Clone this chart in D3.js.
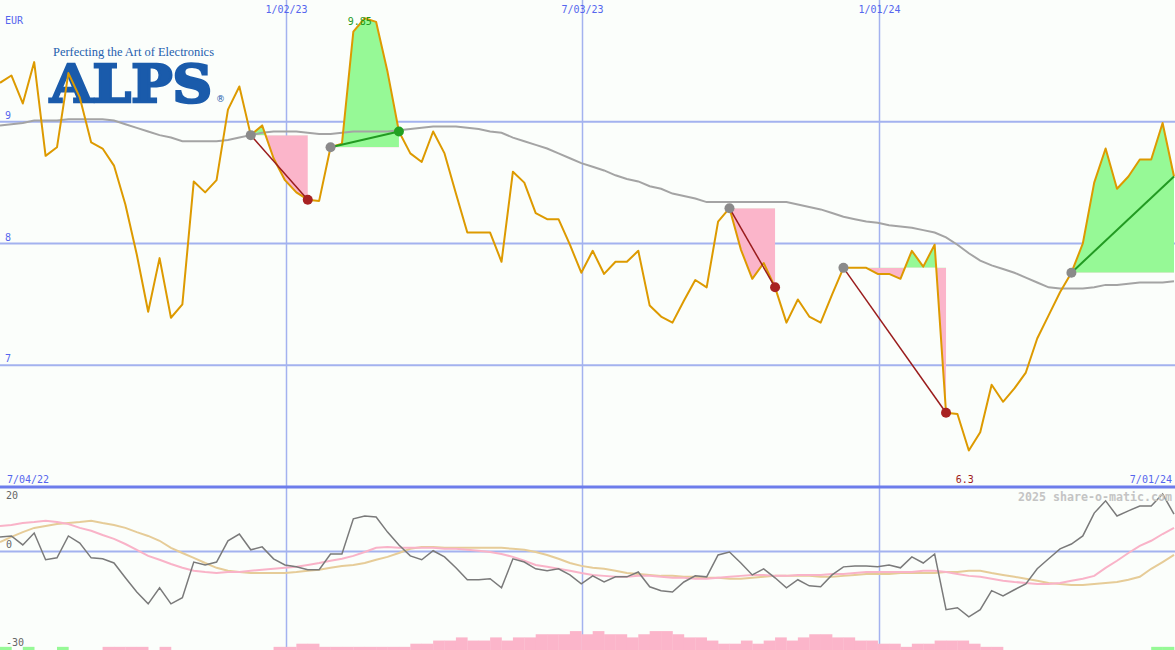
<!DOCTYPE html>
<html><head><meta charset="utf-8">
<script src="https://cdn.jsdelivr.net/npm/d3@7"></script>
<style>html,body{margin:0;padding:0;background:#fbfefb;}svg{display:block;}</style>
</head><body>
<svg id="chart" width="1175" height="650"></svg>
<script>
// ---------- DATA ----------
const startDate = "2022-07-11"; // first weekly close
const price = [9.32,9.38,9.15,9.49,8.72,8.79,9.40,9.20,8.83,8.78,
  8.64,8.32,7.91,7.44,7.88,7.39,7.50,8.51,8.42,8.52,
  9.10,9.29,8.89,8.97,8.70,8.52,8.42,8.36,8.35,8.79,
  8.82,9.74,9.85,9.82,9.41,8.92,8.74,8.67,8.92,8.74,
  8.41,8.09,8.09,8.09,7.85,8.59,8.50,8.25,8.20,8.20,
  7.99,7.76,7.94,7.75,7.85,7.85,7.94,7.49,7.40,7.35,
  7.53,7.70,7.64,8.18,8.29,7.95,7.71,7.84,7.64,7.35,
  7.54,7.40,7.35,7.58,7.80,7.80,7.80,7.75,7.75,7.71,
  7.94,7.81,7.99,6.61,6.60,6.30,6.45,6.84,6.70,6.81,
  6.94,7.22,7.41,7.60,7.76,8.00,8.50,8.78,8.45,8.55,
  8.69,8.69,8.99,8.55];
const movingAvg = [8.97,8.98,8.99,9.01,9.01,9.01,9.02,9.02,9.02,9.02,
  9.01,8.98,8.95,8.92,8.89,8.87,8.84,8.84,8.84,8.84,
  8.85,8.87,8.89,8.91,8.92,8.92,8.92,8.91,8.90,8.90,
  8.91,8.92,8.92,8.92,8.92,8.93,8.94,8.95,8.96,8.96,
  8.96,8.95,8.94,8.92,8.91,8.87,8.84,8.81,8.78,8.74,
  8.70,8.66,8.63,8.60,8.56,8.53,8.51,8.47,8.45,8.41,
  8.39,8.37,8.34,8.34,8.34,8.34,8.34,8.34,8.34,8.34,
  8.32,8.30,8.28,8.25,8.22,8.20,8.18,8.17,8.15,8.14,
  8.13,8.11,8.09,8.05,7.99,7.92,7.86,7.82,7.79,7.76,
  7.72,7.68,7.64,7.63,7.63,7.63,7.64,7.66,7.66,7.67,
  7.68,7.68,7.68,7.69];
// trend signals (week indexes)
const signalStart = [22, 29, 64, 74, 94];
const signalEnd   = [27, 35, 68, 83, 103];
// lower panel
const momentum = [4.5,4.8,2.0,5.7,-2.6,-2.0,4.8,2.6,-2.0,-2.3,
  -3.6,-8.2,-12.6,-16.3,-11.3,-16.3,-14.4,-3.3,-4.2,-3.3,
  3.3,5.4,0.5,1.4,-2.3,-4.2,-4.8,-5.7,-5.7,-0.8,
  -0.8,10.1,11.0,10.7,6.0,2.0,-1.4,-2.6,0.2,-1.7,
  -5.1,-8.8,-8.8,-8.5,-11.3,-2.3,-3.3,-5.4,-6.0,-5.4,
  -7.3,-10.1,-7.6,-9.5,-7.9,-7.9,-6.4,-11.0,-12.2,-12.6,
  -9.5,-7.6,-7.9,-1.1,-0.2,-3.6,-7.3,-5.4,-8.2,-11.3,
  -8.8,-10.7,-11.0,-7.3,-4.8,-4.5,-4.5,-4.8,-4.2,-5.1,
  -1.7,-3.6,-0.8,-18.1,-17.5,-20.3,-18.1,-12.2,-13.8,-11.9,
  -10.1,-5.4,-2.3,0.8,2.3,4.8,11.9,15.7,11.0,12.6,
  14.1,14.1,17.8,11.6];
const signalFast = [7.9,8.2,8.8,9.1,9.5,9.1,8.5,7.3,6.4,5.1,
  3.9,2.3,0.5,-1.4,-2.6,-3.9,-5.1,-6.0,-6.4,-6.7,
  -6.4,-6.4,-6.0,-5.7,-5.4,-5.1,-4.8,-4.2,-3.6,-2.9,
  -2.3,-1.4,-0.2,1.1,1.4,1.1,1.1,1.1,1.1,0.8,
  0.8,0.5,0.2,-0.2,-0.8,-1.7,-2.9,-4.2,-4.8,-5.4,
  -6.0,-6.7,-7.3,-7.6,-7.9,-7.9,-7.6,-7.6,-7.9,-8.2,
  -8.2,-8.5,-8.5,-8.2,-7.9,-7.6,-7.3,-7.3,-7.6,-7.6,
  -7.3,-7.3,-7.3,-7.0,-7.0,-6.7,-6.4,-6.4,-6.4,-6.4,
  -6.4,-6.0,-6.0,-6.4,-7.0,-7.6,-7.9,-8.5,-9.1,-9.5,
  -9.8,-10.1,-10.1,-9.8,-9.1,-8.5,-7.6,-5.1,-2.9,-0.5,
  1.7,3.3,5.4,7.3];
const signalSlow = [2.9,4.5,6.0,7.3,7.9,8.5,8.8,9.1,9.5,8.8,
  8.2,7.3,6.0,4.8,3.3,1.1,-0.5,-2.0,-3.6,-5.1,
  -6.0,-6.4,-6.7,-6.7,-6.7,-6.7,-6.4,-6.0,-5.7,-5.1,
  -4.5,-4.2,-3.6,-2.6,-1.7,-0.5,0.8,1.4,1.4,1.1,
  1.1,1.1,1.1,1.1,1.1,0.8,0.5,-0.2,-1.1,-2.3,
  -3.6,-4.5,-5.1,-5.4,-6.0,-6.7,-7.0,-7.3,-7.6,-7.6,
  -7.9,-7.9,-8.2,-8.2,-8.5,-8.5,-8.2,-7.9,-7.6,-7.6,
  -7.6,-7.6,-7.9,-7.9,-7.6,-7.3,-7.0,-7.0,-7.0,-6.7,
  -6.7,-6.7,-6.7,-6.4,-6.4,-6.0,-6.0,-6.7,-7.3,-7.9,
  -8.5,-9.1,-9.8,-10.1,-10.4,-10.4,-10.1,-9.8,-9.5,-8.8,
  -7.9,-5.4,-3.3,-1.1];
// bottom strength bars: + green, - pink (levels)
const strength = [1,0,1,0,0,1,0,0,0,-1,
  -1,-1,-1,0,-1,0,0,0,0,0,
  0,0,0,0,-1,-1,-2,-2,-1,-1,
  -1,-1,-1,-1,-1,-1,-2,-2,-3,-3,
  -4,-3,-3,-4,-3,-4,-4,-5,-5,-5,
  -6,-5,-6,-5,-5,-4,-5,-6,-6,-5,
  -4,-4,-3,-2,-2,-3,-2,-3,-4,-3,
  -4,-5,-5,-4,-4,-3,-3,-2,-2,-1,
  -2,-2,-3,-3,-3,-2,-1,-1,0,0,
  0,0,0,0,0,0,0,0,0,0,
  0,1,1,0];
const priceTicks = [9, 8, 7];
const dateTicks = ["2023-01-02", "2023-07-03", "2024-01-01"];
const dateTickLabels = ["1/02/23", "7/03/23", "1/01/24"];
const rangeStartLabel = "7/04/22", rangeEndLabel = "7/01/24";
const oscTicks = [20, 0, -30];

// ---------- SCALES ----------
const W = 1175, H = 650, mainBottom = 487;
const parse = d3.timeParse("%Y-%m-%d");
const d0 = parse(startDate);
const dates = price.map((_, i) => d3.timeWeek.offset(d0, i));
const x = d3.scaleTime().domain([dates[0], dates[dates.length - 1]]).range([0, 1174]);
const y = d3.scaleLinear().domain([6, 10]).range([mainBottom, 0]);
const yo = d3.scaleLinear().domain([-30, 20]).range([648, mainBottom]);

const svg = d3.select("#chart");
svg.append("rect").attr("width", W).attr("height", H).attr("fill", "#fbfefb");

const font = "'DejaVu Sans Mono', monospace";
const gridCol = "#a3b2ef";

// ---------- LOGO ----------
const logo = svg.append("g");
logo.append("text").attr("x", 53).attr("y", 56)
  .attr("font-family", "'Liberation Serif', serif").attr("font-size", 13)
  .attr("fill", "#2460ae").attr("textLength", 161).attr("lengthAdjust", "spacingAndGlyphs")
  .text("Perfecting the Art of Electronics");
logo.append("text").attr("x", 50).attr("y", 101.5)
  .attr("font-family", "'DejaVu Serif', serif").attr("font-weight", "bold").attr("font-size", 52)
  .attr("fill", "#1a5bab").attr("stroke", "#1a5bab").attr("stroke-width", 2.6)
  .attr("stroke-linejoin", "miter")
  .attr("textLength", 162).attr("lengthAdjust", "spacingAndGlyphs")
  .text("ALPS");
logo.append("text").attr("x", 216).attr("y", 102)
  .attr("font-family", "'DejaVu Sans', sans-serif").attr("font-size", 9)
  .attr("fill", "#1a5bab").text("®");

// ---------- GRID ----------
priceTicks.forEach(v => {
  svg.append("line").attr("x1", 0).attr("x2", W).attr("y1", y(v)).attr("y2", y(v))
    .attr("stroke", gridCol).attr("stroke-width", 2);
  svg.append("text").attr("x", 5).attr("y", y(v) - 3).attr("font-family", font)
    .attr("font-size", 10).attr("fill", "#5566ee").text(v);
});
svg.append("line").attr("x1", 0).attr("x2", W).attr("y1", yo(0)).attr("y2", yo(0))
  .attr("stroke", gridCol).attr("stroke-width", 2);
dateTicks.forEach((d, k) => {
  const xx = Math.round(x(parse(d))) + 1.5;
  svg.append("line").attr("x1", xx).attr("x2", xx).attr("y1", 0).attr("y2", H)
    .attr("stroke", gridCol).attr("stroke-width", 1.5);
  svg.append("text").attr("x", xx).attr("y", 13).attr("text-anchor", "middle")
    .attr("font-family", font).attr("font-size", 10).attr("fill", "#5566ee").text(dateTickLabels[k]);
});
svg.append("text").attr("x", 5).attr("y", 24).attr("font-family", font)
  .attr("font-size", 10).attr("fill", "#5566ee").text("EUR");

// ---------- SIGNAL FILLS ----------
const defs = svg.append("defs");
signalStart.forEach((s, k) => {
  const e = signalEnd[k];
  const L = price[s];
  const idx = d3.range(s, e + 1);
  const area = d3.area().x(i => x(dates[i])).y0(y(L)).y1(i => y(price[i]));
  defs.append("clipPath").attr("id", "up" + k).append("rect")
    .attr("x", 0).attr("y", 0).attr("width", W).attr("height", y(L));
  defs.append("clipPath").attr("id", "dn" + k).append("rect")
    .attr("x", 0).attr("y", y(L)).attr("width", W).attr("height", mainBottom - y(L));
  svg.append("path").datum(idx).attr("d", area).attr("fill", "#96f996").attr("clip-path", `url(#up${k})`);
  svg.append("path").datum(idx).attr("d", area).attr("fill", "#fbb5ca").attr("clip-path", `url(#dn${k})`);
});

// ---------- LINES ----------
const lineIdx = d3.range(price.length);
svg.append("path").datum(lineIdx)
  .attr("d", d3.line().x(i => x(dates[i])).y(i => y(movingAvg[i])))
  .attr("fill", "none").attr("stroke", "#a4a4a4").attr("stroke-width", 2);
svg.append("path").datum(lineIdx)
  .attr("d", d3.line().x(i => x(dates[i])).y(i => y(price[i])))
  .attr("fill", "none").attr("stroke", "#dd9a00").attr("stroke-width", 2).attr("stroke-linejoin", "round");

signalStart.forEach((s, k) => {
  const e = signalEnd[k];
  const up = price[e] > price[s];
  svg.append("line").attr("x1", x(dates[s])).attr("y1", y(price[s]))
    .attr("x2", x(dates[e])).attr("y2", y(price[e]))
    .attr("stroke", up ? "#229a22" : "#9a1c1c").attr("stroke-width", up ? 2 : 1.5);
  svg.append("circle").attr("cx", x(dates[s])).attr("cy", y(price[s])).attr("r", 5).attr("fill", "#8a8a8a");
  if (e < price.length - 1) {
    svg.append("circle").attr("cx", x(dates[e])).attr("cy", y(price[e])).attr("r", 5)
      .attr("fill", up ? "#22a022" : "#a82222");
  }
});

// max / min labels
const iMax = d3.maxIndex(price), iMin = d3.minIndex(price);
svg.append("text").attr("x", x(dates[iMax]) - 5).attr("y", y(price[iMax]) + 7)
  .attr("text-anchor", "middle").attr("font-family", font).attr("font-size", 10)
  .attr("fill", "#229a22").text(price[iMax].toFixed(2));
svg.append("text").attr("x", x(dates[iMin]) - 4).attr("y", 483)
  .attr("text-anchor", "middle").attr("font-family", font).attr("font-size", 10)
  .attr("fill", "#a01c1c").text(d3.format("")(price[iMin]));

// ---------- SEPARATOR + RANGE LABELS ----------
svg.append("line").attr("x1", 0).attr("x2", W).attr("y1", mainBottom).attr("y2", mainBottom)
  .attr("stroke", "#6d7deb").attr("stroke-width", 3);
svg.append("text").attr("x", 7).attr("y", 483).attr("font-family", font).attr("font-size", 10)
  .attr("fill", "#5566ee").text(rangeStartLabel);
svg.append("text").attr("x", 1172).attr("y", 483).attr("text-anchor", "end").attr("font-family", font)
  .attr("font-size", 10).attr("fill", "#5566ee").text(rangeEndLabel);

// ---------- OSCILLATOR PANEL ----------
const barW = x(dates[1]) - x(dates[0]);
svg.append("g").selectAll("rect").data(lineIdx.filter(i => strength[i] !== 0)).join("rect")
  .attr("x", i => x(dates[i])).attr("width", barW + 0.3)
  .attr("y", i => H - Math.abs(strength[i]) * 3.15).attr("height", i => Math.abs(strength[i]) * 3.15)
  .attr("fill", i => strength[i] > 0 ? "#96f996" : "#fbb5ca");

const oscLine = arr => d3.line().x(i => x(dates[i])).y(i => yo(arr[i]));
svg.append("path").datum(lineIdx).attr("d", oscLine(signalSlow))
  .attr("fill", "none").attr("stroke", "#e6cc98").attr("stroke-width", 2);
svg.append("path").datum(lineIdx).attr("d", oscLine(signalFast))
  .attr("fill", "none").attr("stroke", "#f9b3c8").attr("stroke-width", 2);
svg.append("path").datum(lineIdx).attr("d", oscLine(momentum))
  .attr("fill", "none").attr("stroke", "#7a7a7a").attr("stroke-width", 1.5);

const oscLabelY = {"20": 499, "0": yo(0) - 3, "-30": 646};
oscTicks.forEach(v => {
  svg.append("text").attr("x", 6).attr("y", oscLabelY[String(v)]).attr("font-family", font)
    .attr("font-size", 10).attr("fill", "#666").text(v);
});
svg.append("text").attr("x", 1172).attr("y", 501).attr("text-anchor", "end")
  .attr("font-family", font).attr("font-weight", "bold").attr("font-size", 11.5)
  .attr("fill", "#c4c4c4").attr("textLength", 154).attr("lengthAdjust", "spacingAndGlyphs")
  .text("2025 share-o-matic.com");
</script>
</body></html>
